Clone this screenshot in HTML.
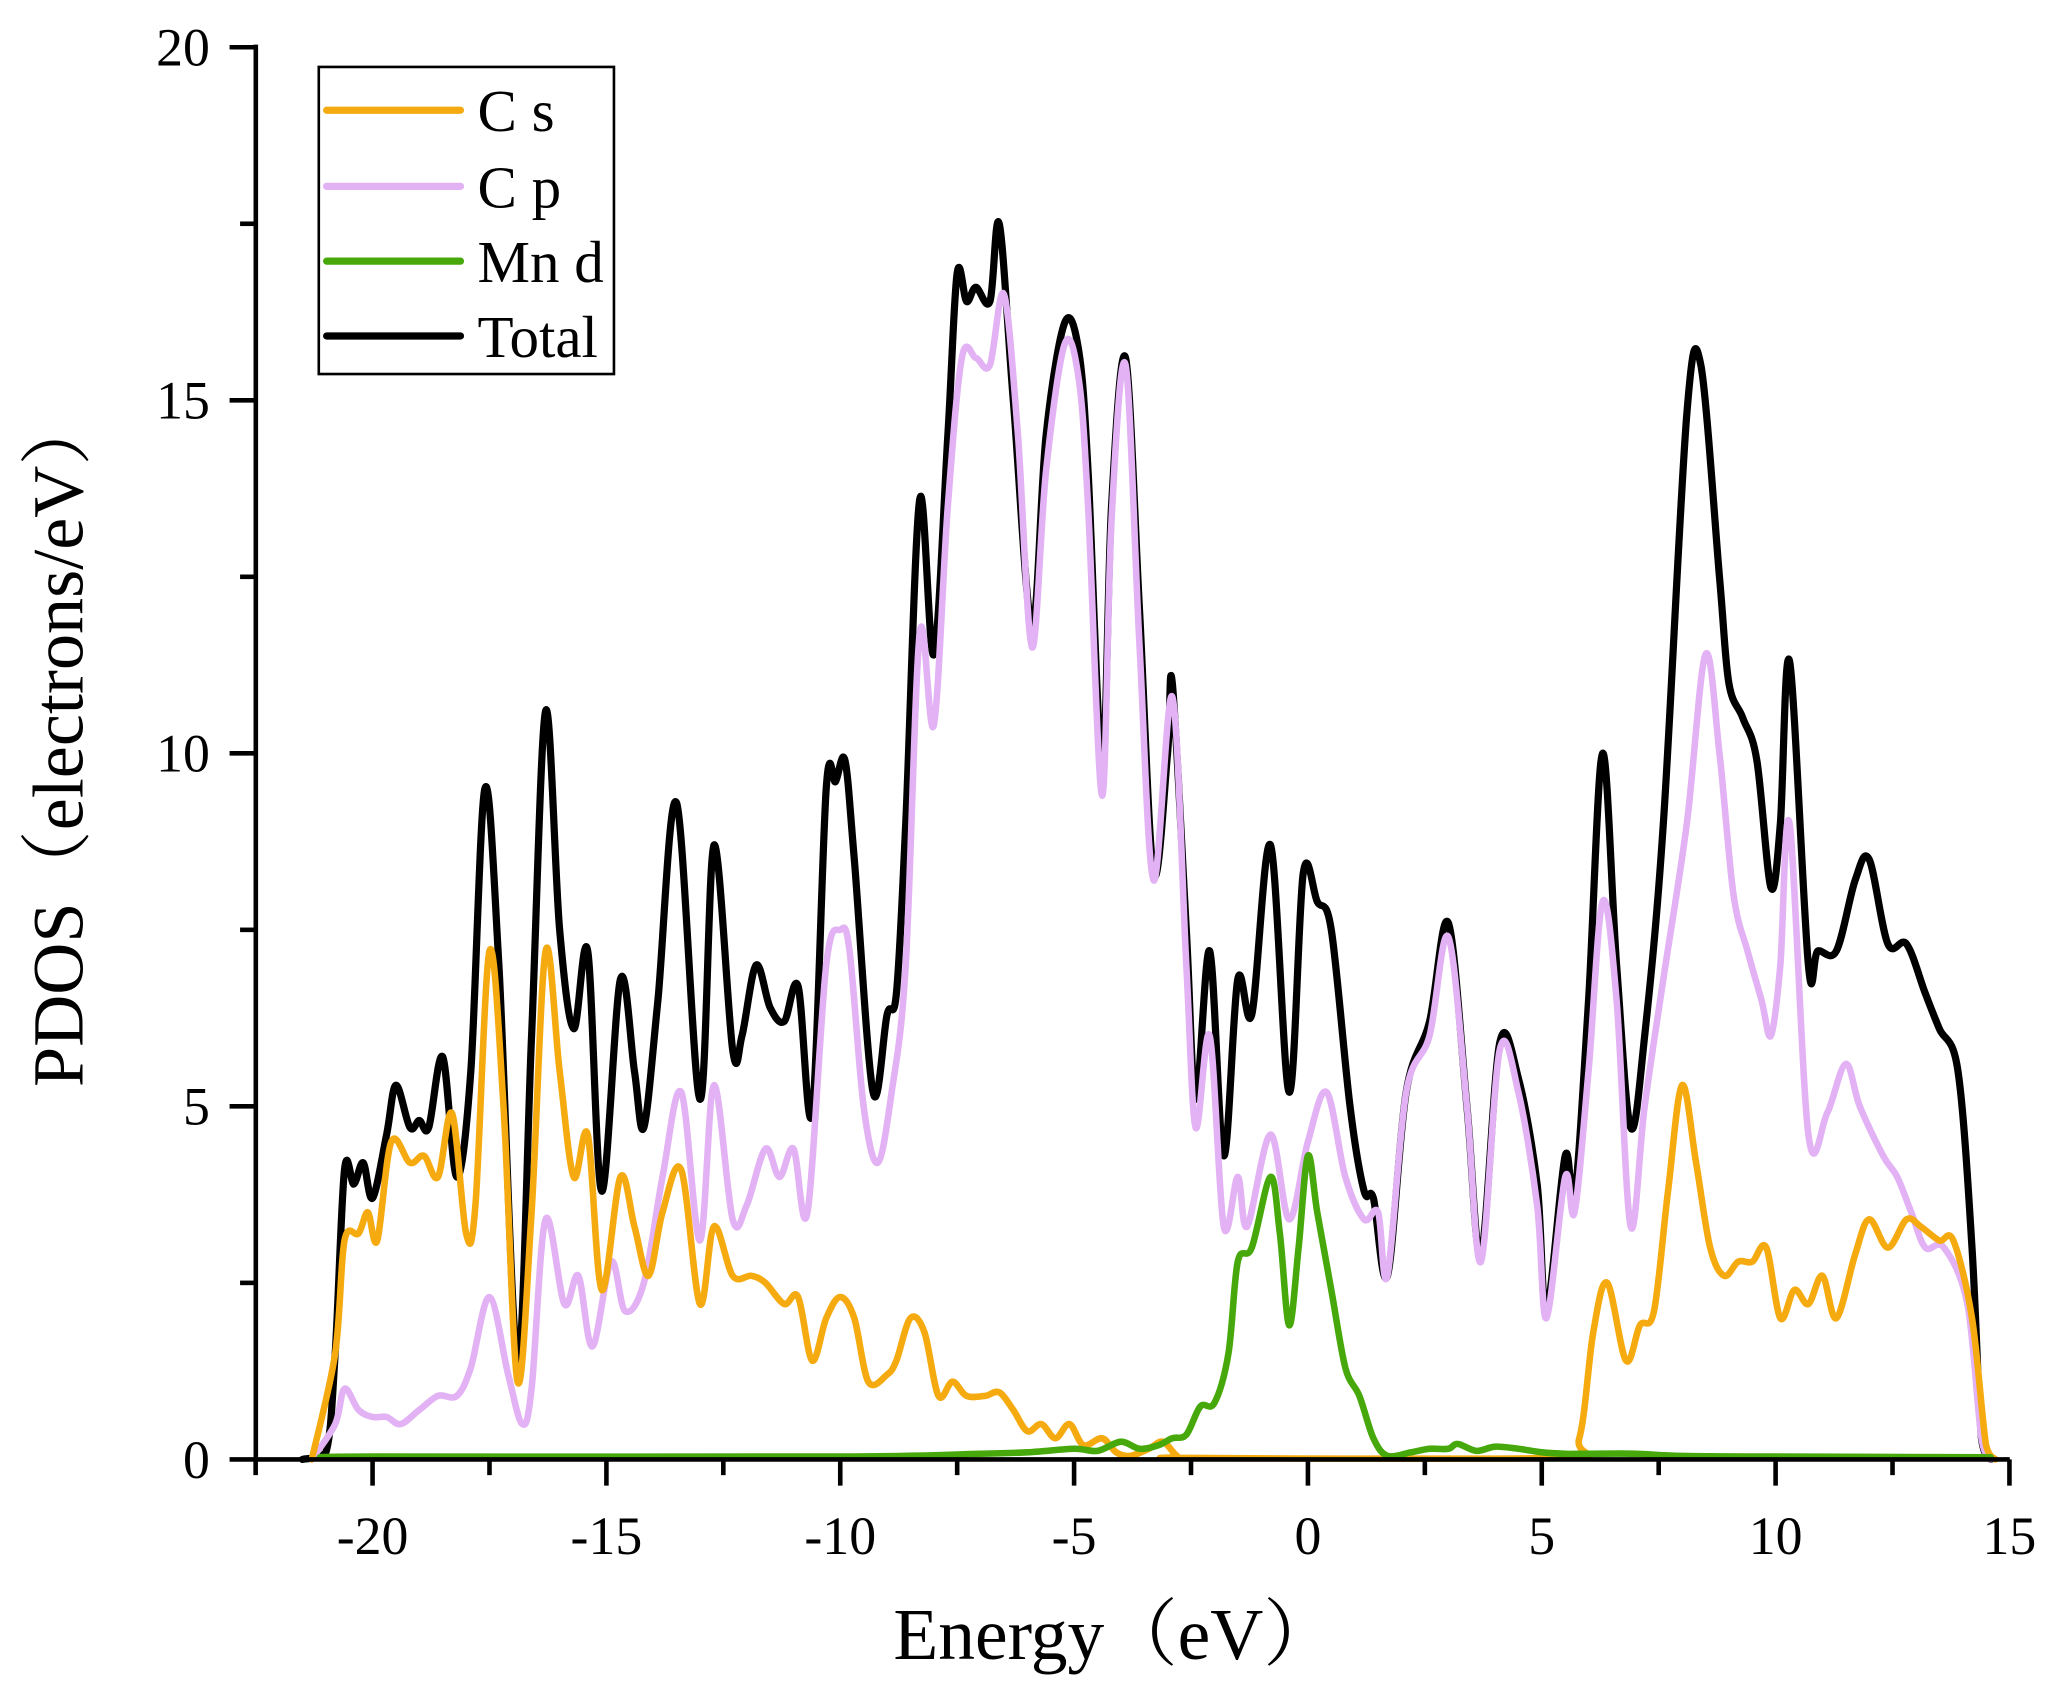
<!DOCTYPE html>
<html><head><meta charset="utf-8"><style>
html,body{margin:0;padding:0;background:#fff;}
svg{display:block;}
text{font-family:"Liberation Serif","Noto Serif CJK SC",serif;fill:#000;}
</style></head><body>
<svg id="s" width="2057" height="1693" viewBox="0 0 1568 1290" preserveAspectRatio="none" xmlns="http://www.w3.org/2000/svg">
<g id="series" fill="none" stroke-linejoin="round" stroke-linecap="round"></g>
<g stroke="#000" stroke-width="3.5" fill="none">
<line x1="195" y1="34" x2="195" y2="1113.5"/>
<line x1="193.5" y1="1112" x2="1532" y2="1112"/>
</g>
<g id="ticks" stroke="#000" stroke-width="3.5"></g>
<g id="labels" font-size="41"></g>
<g>
<rect x="243" y="51" width="225" height="234" fill="#fff" stroke="#000" stroke-width="2"/>
<g stroke-width="5.5" stroke-linecap="round">
<line x1="249" y1="84" x2="351" y2="84" stroke="#F5AA0F"/>
<line x1="249" y1="142" x2="351" y2="142" stroke="#E2B2F5"/>
<line x1="249" y1="199" x2="351" y2="199" stroke="#46A80A"/>
<line x1="249" y1="256" x2="351" y2="256" stroke="#000"/>
</g>
<g font-size="45">
<text x="364" y="100">C s</text>
<text x="364" y="158">C p</text>
<text x="364" y="215">Mn d</text>
<text x="364" y="272">Total</text>
</g>
</g>
<text x="850" y="1264" font-size="56" text-anchor="middle">Energy（eV）</text>
<text transform="translate(63,564) rotate(-90)" font-size="55" text-anchor="middle">PDOS（electrons/eV）</text>
</svg>
<script>
var X=function(e){return 997+e*35.65;};
var Y=function(v){return 1112-v*53.8;};
var NS="http://www.w3.org/2000/svg";
function el(p,t,a){var e=document.createElementNS(NS,t);for(var k in a)e.setAttribute(k,a[k]);p.appendChild(e);return e;}
var tk=document.getElementById('ticks'),lb=document.getElementById('labels');
for(var e=-22.5;e<=15.01;e+=2.5){var maj=Math.abs(e%5)<0.01;el(tk,'line',{x1:X(e),y1:1112,x2:X(e),y2:1112+(maj?20:12)});
 if(maj&&e>=-20){var t=el(lb,'text',{x:X(e),y:1184,'text-anchor':'middle'});t.textContent=(e<0?'-':'')+Math.abs(e);}}
for(var v=0;v<=20.01;v+=2.5){var maj=Math.abs(v%5)<0.01;el(tk,'line',{x1:195,y1:Y(v),x2:195-(maj?20:12),y2:Y(v)});
 if(maj){var t=el(lb,'text',{x:160,y:Y(v)+14,'text-anchor':'end'});t.textContent=v;}}
function path(pts){var P=[];for(var i=0;i<pts.length;i+=2)P.push([X(pts[i]),Y(pts[i+1])]);
 var d='M'+P[0][0]+','+P[0][1];
 for(var i=0;i<P.length-1;i++){var p0=P[Math.max(0,i-1)],p1=P[i],p2=P[i+1],p3=P[Math.min(P.length-1,i+2)];
  var c1x=p1[0]+(p2[0]-p0[0])/6,c1y=p1[1]+(p2[1]-p0[1])/6,c2x=p2[0]-(p3[0]-p1[0])/6,c2y=p2[1]-(p3[1]-p1[1])/6;
  c1y=Math.min(c1y,1112);c2y=Math.min(c2y,1112);
  d+=' C'+c1x.toFixed(1)+','+c1y.toFixed(1)+' '+c2x.toFixed(1)+','+c2y.toFixed(1)+' '+p2[0].toFixed(1)+','+p2[1].toFixed(1);}
 return d;}
var cs=[-21.3,0,-20.8,1.5,-20.6,3.1,-20.3,3.2,-20.1,3.5,-19.9,3.1,-19.6,4.5,-19.2,4.2,-18.9,4.3,-18.6,4.0,-18.3,4.9,-18.0,3.2,-17.8,3.6,-17.5,7.2,-17.2,5.0,-16.9,1.1,-16.6,3.5,-16.3,7.2,-16.0,5.5,-15.7,4.0,-15.4,4.6,-15.1,2.4,-14.7,4.0,-14.4,3.3,-14.1,2.6,-13.8,3.5,-13.4,4.1,-13.0,2.2,-12.7,3.3,-12.3,2.6,-11.9,2.6,-11.6,2.5,-11.2,2.2,-10.9,2.3,-10.6,1.4,-10.3,2.0,-10.0,2.3,-9.7,2.0,-9.4,1.1,-9.0,1.2,-8.8,1.4,-8.5,2.0,-8.2,1.8,-7.9,0.9,-7.6,1.1,-7.3,0.9,-6.9,0.9,-6.6,0.95,-6.3,0.7,-6.0,0.4,-5.7,0.5,-5.4,0.3,-5.1,0.5,-4.8,0.2,-4.4,0.3,-4.1,0.1,-3.8,0.05,-3.4,0.15,-3.1,0.25,-2.8,0.05,-2.5,0.02,5.3,0.02,5.8,0.3,6.1,1.8,6.4,2.5,6.8,1.4,7.1,1.9,7.4,2.1,7.7,3.8,8.0,5.3,8.3,4.2,8.6,3.0,8.9,2.6,9.2,2.8,9.5,2.8,9.8,3.0,10.1,2.0,10.4,2.4,10.7,2.2,11.0,2.6,11.3,2.0,11.7,2.9,12.0,3.4,12.4,3.0,12.8,3.4,13.1,3.3,13.5,3.1,13.8,3.1,14.2,2.0,14.5,0.2,14.7,0];
var cp=[-21.3,0,-20.8,0.5,-20.6,1.0,-20.3,0.7,-20.0,0.6,-19.7,0.6,-19.4,0.5,-19.0,0.7,-18.6,0.9,-18.2,0.9,-17.9,1.3,-17.5,2.3,-17.1,1.2,-16.8,0.5,-16.6,1.0,-16.3,3.4,-15.9,2.2,-15.6,2.6,-15.3,1.6,-14.9,2.8,-14.6,2.1,-14.2,2.5,-13.8,4.0,-13.4,5.2,-13.0,3.1,-12.7,5.3,-12.3,3.4,-12.0,3.6,-11.6,4.4,-11.3,4.0,-11.0,4.4,-10.7,3.5,-10.3,7.0,-10.0,7.5,-9.8,7.2,-9.5,5.0,-9.2,4.2,-8.9,5.2,-8.6,7.0,-8.3,11.7,-8.0,10.4,-7.7,13.5,-7.4,15.6,-7.1,15.6,-6.8,15.5,-6.5,16.5,-6.2,14.5,-5.9,11.5,-5.6,14.0,-5.2,15.8,-4.9,15.3,-4.7,13.5,-4.4,9.4,-4.2,13.3,-3.9,15.5,-3.6,11.5,-3.3,8.2,-2.9,10.8,-2.6,7.0,-2.4,4.7,-2.1,6.0,-1.8,3.3,-1.5,4.0,-1.3,3.3,-0.8,4.6,-0.4,3.4,0.0,4.5,0.4,5.2,0.8,4.0,1.2,3.4,1.5,3.5,1.7,2.6,2.1,5.2,2.6,6.0,3.0,7.4,3.4,5.0,3.7,2.8,4.1,5.8,4.5,5.2,4.9,3.6,5.1,2.0,5.5,4.0,5.7,3.5,6.0,5.5,6.3,7.9,6.6,6.5,6.9,3.3,7.2,5.0,7.6,6.8,8.1,9.0,8.5,11.4,8.8,10.0,9.1,8.0,9.4,7.2,9.7,6.5,9.9,6.0,10.1,7.0,10.3,9.0,10.7,4.6,11.1,4.9,11.5,5.6,11.8,5.0,12.3,4.3,12.6,4.0,12.9,3.5,13.2,3.0,13.6,3.0,14.1,2.2,14.4,0.3,14.6,0];
var mn=[-21.0,0.02,-20,0.04,-10,0.04,-7,0.08,-6,0.1,-5,0.15,-4.5,0.12,-4.0,0.25,-3.6,0.15,-3.2,0.2,-2.9,0.3,-2.6,0.35,-2.3,0.75,-2.0,0.8,-1.7,1.5,-1.5,2.8,-1.2,3.0,-0.8,4.0,-0.6,3.2,-0.4,1.9,-0.2,3.0,0.0,4.3,0.2,3.5,0.5,2.4,0.8,1.3,1.1,0.9,1.4,0.3,1.7,0.05,2.2,0.1,2.6,0.15,3.0,0.15,3.2,0.22,3.6,0.12,4.0,0.18,4.5,0.15,5.0,0.1,5.5,0.08,6.0,0.08,7,0.08,8,0.05,10,0.04,14.6,0.03];
var tot=[-21.5,0,-21.0,0.1,-20.8,1.5,-20.6,4.1,-20.4,3.9,-20.2,4.2,-20.0,3.7,-19.7,4.6,-19.5,5.3,-19.2,4.7,-19.0,4.8,-18.8,4.7,-18.5,5.7,-18.2,4.0,-17.9,5.5,-17.6,9.5,-17.3,7.0,-16.9,1.4,-16.6,6.0,-16.3,10.6,-16.0,7.5,-15.7,6.1,-15.4,7.2,-15.1,3.8,-14.7,6.8,-14.4,5.5,-14.2,4.7,-13.9,6.5,-13.5,9.3,-13.0,5.1,-12.7,8.7,-12.3,5.8,-12.1,6.0,-11.8,7.0,-11.5,6.4,-11.2,6.2,-10.9,6.7,-10.6,4.9,-10.3,9.5,-10.1,9.6,-9.9,9.9,-9.7,8.5,-9.3,5.2,-9.0,6.3,-8.8,6.6,-8.6,9.0,-8.3,13.6,-8.0,11.4,-7.7,14.5,-7.5,16.8,-7.3,16.4,-7.1,16.6,-6.8,16.4,-6.6,17.5,-6.3,15.0,-5.9,11.8,-5.6,14.5,-5.2,16.1,-4.9,15.7,-4.7,14.0,-4.4,9.8,-4.2,13.5,-3.9,15.6,-3.6,12.0,-3.3,8.3,-3.0,10.0,-2.9,11.0,-2.6,7.5,-2.4,5.1,-2.1,7.2,-1.8,4.3,-1.5,6.8,-1.2,6.3,-0.8,8.7,-0.4,5.2,-0.1,8.3,0.2,7.9,0.5,7.5,0.9,5.0,1.2,3.8,1.4,3.7,1.7,2.6,2.1,5.2,2.6,6.2,3.0,7.6,3.4,5.0,3.7,2.9,4.1,5.9,4.5,5.4,4.9,3.9,5.1,2.1,5.5,4.3,5.7,3.7,6.0,6.5,6.3,10.0,6.6,7.0,6.9,4.7,7.2,6.0,7.6,9.0,8.1,14.8,8.4,15.5,8.8,12.5,9.0,11.0,9.3,10.5,9.6,9.9,9.9,8.1,10.1,9.0,10.3,11.3,10.7,7.0,10.9,7.2,11.3,7.2,11.7,8.2,12.0,8.5,12.4,7.3,12.8,7.3,13.2,6.6,13.5,6.1,13.9,5.5,14.2,3.0,14.4,0.3,14.6,0];
var g=document.getElementById('series');
el(g,'path',{d:path(tot),stroke:'#000','stroke-width':5.5});
el(g,'path',{d:path(cp),stroke:'#E2B2F5','stroke-width':5});
el(g,'path',{d:path(cs),stroke:'#F5AA0F','stroke-width':5});
el(g,'path',{d:path(mn),stroke:'#46A80A','stroke-width':5});
</script>
</body></html>
